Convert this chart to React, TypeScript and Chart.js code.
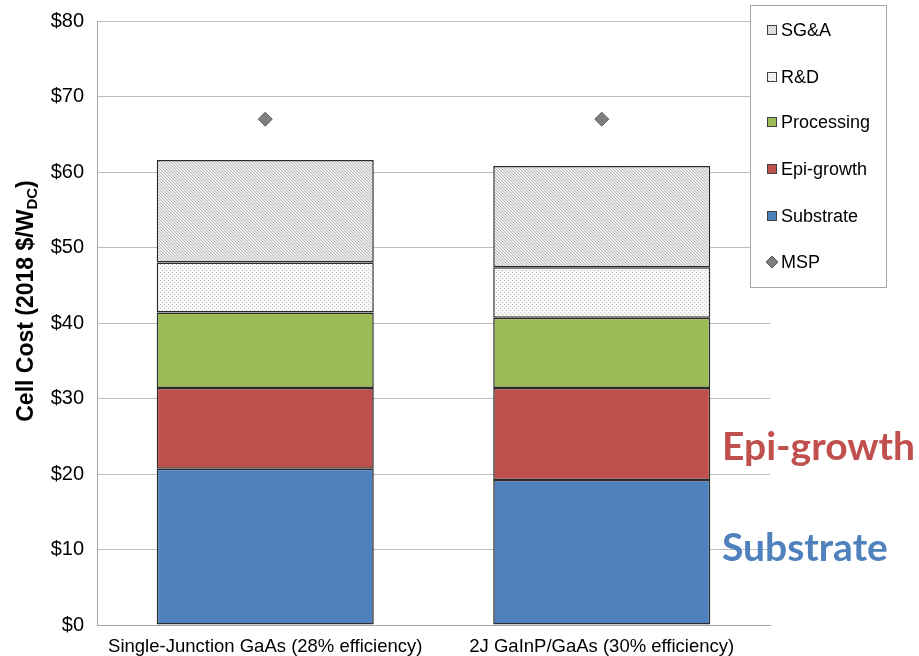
import React, { useEffect, useRef } from "react";
import { Chart, registerables } from "chart.js";

Chart.register(...registerables);

// Cell cost breakdown, 2018 $/W_DC
const categories = [
  "Single-Junction GaAs (28% efficiency)",
  "2J GaInP/GaAs (30% efficiency)",
];
const substrate = [20.7, 19.2];
const epiGrowth = [10.7, 12.2];
const processing = [10.0, 9.3];
const rAndD = [6.6, 6.7];
const sgAndA = [13.6, 13.4];
const msp = [67.0, 67.0];

const yTicks = [0, 10, 20, 30, 40, 50, 60, 70, 80];

const BLUE = "#4f81bd";
const RED = "#c0504d";
const GREEN = "#9bbb59";
const FONT = "'Liberation Sans', Arial, sans-serif";

function makeHatch(): CanvasPattern | string {
  const c = document.createElement("canvas");
  c.width = 6;
  c.height = 6;
  const g = c.getContext("2d");
  if (!g) return "#dcdcdc";
  g.fillStyle = "#ededed";
  g.fillRect(0, 0, 6, 6);
  g.strokeStyle = "#b8b8b8";
  g.lineWidth = 1;
  for (let k = -6; k <= 6; k += 3) {
    g.beginPath();
    g.moveTo(k, 0);
    g.lineTo(k + 6, 6);
    g.stroke();
  }
  return g.createPattern(c, "repeat") || "#dcdcdc";
}

function makeDots(): CanvasPattern | string {
  const c = document.createElement("canvas");
  c.width = 4;
  c.height = 4;
  const g = c.getContext("2d");
  if (!g) return "#eeeeee";
  g.fillStyle = "#f7f7f7";
  g.fillRect(0, 0, 4, 4);
  g.fillStyle = "#c4c4c4";
  g.fillRect(0, 0, 1, 1);
  g.fillRect(2, 2, 1, 1);
  return g.createPattern(c, "repeat") || "#eeeeee";
}

export default function App() {
  const ref = useRef<HTMLCanvasElement>(null);

  useEffect(() => {
    if (!ref.current) return;
    const hatch = makeHatch();
    const dots = makeDots();

    const barBase = {
      type: "bar" as const,
      borderColor: "#2b2b2b",
      borderWidth: 1.5,
      borderSkipped: false as const,
      barPercentage: 1,
      categoryPercentage: 0.645,
      stack: "cost",
      order: 1,
    };

    const legendItems = [
      { label: "SG&A", fill: hatch as any, kind: "box" },
      { label: "R&D", fill: dots as any, kind: "box" },
      { label: "Processing", fill: GREEN, kind: "box" },
      { label: "Epi-growth", fill: RED, kind: "box" },
      { label: "Substrate", fill: BLUE, kind: "box" },
      { label: "MSP", fill: "#7f7f7f", kind: "diamond" },
    ];

    const overlay = {
      id: "overlay",
      afterDraw(chart: any) {
        const ctx = chart.ctx as CanvasRenderingContext2D;
        ctx.save();

        // y-axis title with subscript
        ctx.translate(27, 301);
        ctx.rotate(-Math.PI / 2);
        ctx.fillStyle = "#000";
        ctx.textBaseline = "middle";
        const mainFont = `bold 23px ${FONT}`;
        const subFont = `bold 15px ${FONT}`;
        const p1 = "Cell Cost (2018 $/W";
        const p2 = "DC";
        const p3 = ")";
        ctx.font = mainFont;
        const w1 = ctx.measureText(p1).width;
        const w3 = ctx.measureText(p3).width;
        ctx.font = subFont;
        const w2 = ctx.measureText(p2).width;
        let x = -(w1 + w2 + w3) / 2;
        ctx.font = mainFont;
        ctx.textAlign = "left";
        ctx.fillText(p1, x, 0);
        x += w1;
        ctx.font = subFont;
        ctx.fillText(p2, x, 6);
        x += w2;
        ctx.font = mainFont;
        ctx.fillText(p3, x, 0);
        ctx.restore();

        // legend box
        ctx.save();
        ctx.fillStyle = "#ffffff";
        ctx.fillRect(750, 5, 136, 282);
        ctx.strokeStyle = "#a6a6a6";
        ctx.lineWidth = 1;
        ctx.strokeRect(750.5, 5.5, 136, 282);
        const ys = [30, 77, 122, 169, 216, 262];
        ctx.font = `18px ${FONT}`;
        ctx.textBaseline = "middle";
        ctx.textAlign = "left";
        legendItems.forEach((it, i) => {
          const y = ys[i];
          if (it.kind === "box") {
            ctx.fillStyle = it.fill;
            ctx.fillRect(767, y - 5, 10, 10);
            ctx.strokeStyle = "#404040";
            ctx.strokeRect(767.5, y - 4.5, 9, 9);
          } else {
            ctx.beginPath();
            ctx.moveTo(772, y - 6);
            ctx.lineTo(778, y);
            ctx.lineTo(772, y + 6);
            ctx.lineTo(766, y);
            ctx.closePath();
            ctx.fillStyle = it.fill;
            ctx.fill();
            ctx.strokeStyle = "#595959";
            ctx.stroke();
          }
          ctx.fillStyle = "#000";
          ctx.fillText(it.label, 781, y + 1);
        });

        // callout labels
        ctx.font = "bold 39px Lato, 'Open Sans', sans-serif";
        ctx.textBaseline = "alphabetic";
        ctx.fillStyle = RED;
        ctx.fillText("Epi-growth", 722, 460);
        ctx.fillStyle = BLUE;
        ctx.fillText("Substrate", 722, 561);
        ctx.restore();
      },
    };

    const chart = new Chart(ref.current, {
      type: "bar",
      data: {
        labels: categories,
        datasets: [
          { ...barBase, label: "Substrate", data: substrate, backgroundColor: BLUE },
          { ...barBase, label: "Epi-growth", data: epiGrowth, backgroundColor: RED },
          { ...barBase, label: "Processing", data: processing, backgroundColor: GREEN },
          { ...barBase, label: "R&D", data: rAndD, backgroundColor: dots as any },
          { ...barBase, label: "SG&A", data: sgAndA, backgroundColor: hatch as any },
          {
            type: "line",
            label: "MSP",
            data: msp,
            showLine: false,
            stack: "msp",
            order: 0,
            pointStyle: "rectRot",
            pointRadius: 7,
            pointBackgroundColor: "#7f7f7f",
            pointBorderColor: "#595959",
            pointBorderWidth: 1,
          } as any,
        ],
      },
      options: {
        responsive: false,
        animation: false,
        layout: { padding: { top: 21, right: 149, left: 0, bottom: 0 } },
        plugins: {
          legend: { display: false },
          tooltip: { enabled: false },
        },
        scales: {
          x: {
            stacked: true,
            grid: { display: false },
            border: { display: true, color: "#a6a6a6", width: 1 },
            ticks: {
              color: "#000",
              font: { family: FONT, size: 18.5 },
              padding: 3,
              maxRotation: 0,
              autoSkip: false,
            },
            afterFit: (s: any) => {
              s.height = 31;
            },
          },
          y: {
            stacked: true,
            min: 0,
            max: 80,
            afterBuildTicks: (s: any) => {
              s.ticks = yTicks.map((v) => ({ value: v }));
            },
            grid: {
              color: "#bdbdbd",
              lineWidth: 1,
              drawTicks: true,
              tickLength: 13,
              tickColor: "rgba(0,0,0,0)",
            },
            border: { display: true, color: "#a6a6a6", width: 1 },
            ticks: {
              color: "#000",
              font: { family: FONT, size: 20 },
              padding: 0,
              callback: (v: any) => "$" + v,
            },
            afterFit: (s: any) => {
              s.width = 97;
            },
          },
        },
      },
      plugins: [overlay],
    });

    return () => chart.destroy();
  }, []);

  return (
    <div style={{ position: "absolute", left: 0, top: 0, width: 919, height: 656, background: "#fff" }}>
      <canvas ref={ref} width={919} height={656} style={{ width: 919, height: 656, display: "block" }} />
    </div>
  );
}
